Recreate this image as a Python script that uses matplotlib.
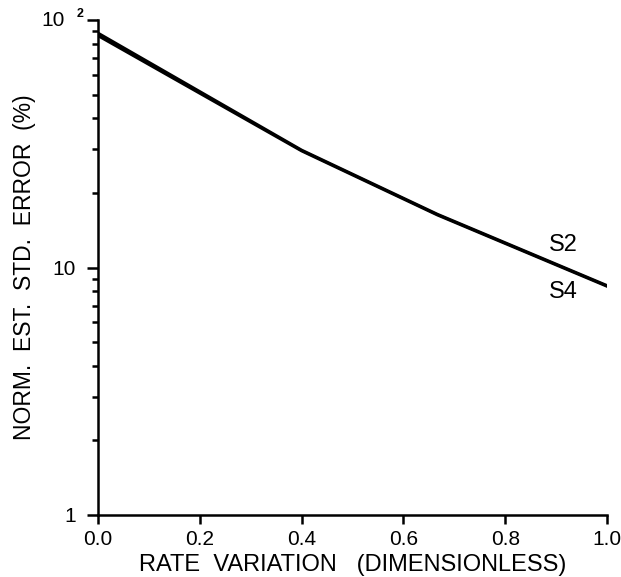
import matplotlib
matplotlib.use("Agg")
import matplotlib.pyplot as plt
from matplotlib.ticker import FixedLocator, LogLocator, NullFormatter

# Normalized estimated standard error vs. rate variation
rate_variation = [0.0, 0.4, 0.667, 1.0]
s2_error = [88.5, 29.8, 16.4, 8.45]
s4_error = [86.5, 29.6, 16.3, 8.4]

y_ticks = [1, 10, 100]
y_tick_labels = ["1", "10", ""]
x_ticks = [0.0, 0.2, 0.4, 0.6, 0.8, 1.0]
x_tick_labels = ["0.0", "0.2", "0.4", "0.6", "0.8", "1.0"]

plt.rcParams["font.family"] = ["Liberation Sans", "DejaVu Sans"]

W, H = 621, 577
fig = plt.figure(figsize=(W / 100, H / 100), dpi=100)
x0, x1, y_bot, y_top = 98, 607, 515, 20
ax = fig.add_axes([x0 / W, 1 - y_bot / H, (x1 - x0) / W, (y_bot - y_top) / H])

ax.plot(rate_variation, s2_error, color="black", lw=2.2)
ax.plot(rate_variation, s4_error, color="black", lw=2.2)

ax.set_yscale("log")
ax.set_ylim(1, 100)
ax.set_xlim(0, 1.0)

ax.yaxis.set_major_locator(FixedLocator(y_ticks))
ax.set_yticklabels(y_tick_labels)
ax.yaxis.set_minor_locator(LogLocator(base=10, subs=range(2, 10)))
ax.yaxis.set_minor_formatter(NullFormatter())
ax.set_xticks(x_ticks)
ax.set_xticklabels(x_tick_labels)

for side in ("top", "right"):
    ax.spines[side].set_visible(False)
for side in ("left", "bottom"):
    ax.spines[side].set_linewidth(1.8)

ax.tick_params(axis="y", which="major", direction="out", length=8, width=1.8, labelsize=15, pad=8)
ax.tick_params(axis="y", which="minor", direction="out", length=4.5, width=1.8)
ax.tick_params(axis="x", which="major", direction="out", length=6.5, width=1.8, labelsize=15, pad=4)

# top decade label written as 10 with a raised exponent
ax.annotate("10", xy=(0, 100), xycoords=("axes fraction", "data"),
            xytext=(-24, 0), textcoords="offset points",
            ha="right", va="center", fontsize=15)
ax.annotate("2", xy=(0, 100), xycoords=("axes fraction", "data"),
            xytext=(-10.5, 4), textcoords="offset points",
            ha="right", va="center", fontsize=9, fontweight="bold")

ax.set_xlabel("RATE  VARIATION   (DIMENSIONLESS)", fontsize=17, labelpad=4)
ax.set_ylabel("NORM.  EST.  STD.  ERROR  (%)", fontsize=16.5, labelpad=12)

ax.text(0.886, 12.3, "S2", fontsize=17, ha="left", va="center")
ax.text(0.886, 7.95, "S4", fontsize=17, ha="left", va="center")

fig.savefig("out.png", dpi=100)
